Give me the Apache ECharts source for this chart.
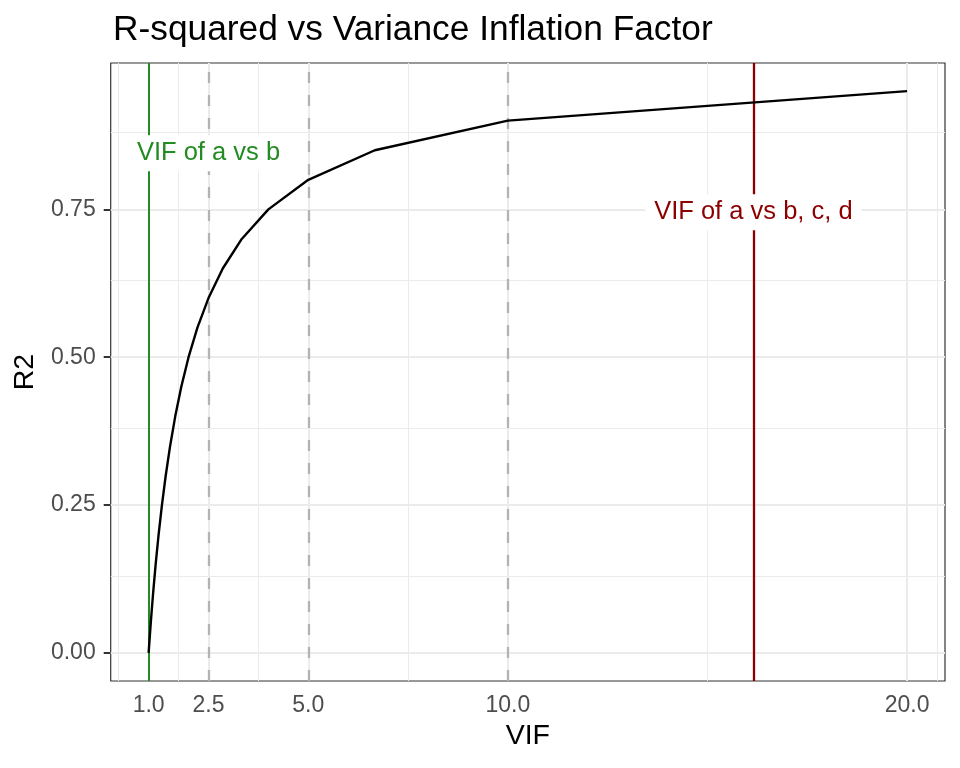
<!DOCTYPE html>
<html>
<head>
<meta charset="utf-8">
<title>R-squared vs Variance Inflation Factor</title>
<script src="https://cdn.jsdelivr.net/npm/echarts@6/dist/echarts.min.js"></script>
<style>
  html, body { margin: 0; padding: 0; background: #fff; }
  #chart { width: 960px; height: 768px; }
</style>
</head>
<body>
<div id="chart"></div>
<script>
// curve: R2 from 0 to 0.95 and the matching VIF
var r2Values = [0, 0.05, 0.1, 0.15, 0.2, 0.25, 0.3, 0.35, 0.4, 0.45, 0.5,
                0.55, 0.6, 0.65, 0.7, 0.75, 0.8, 0.85, 0.9, 0.95];
var vifValues = [1, 1.0526, 1.1111, 1.1765, 1.25, 1.3333, 1.4286, 1.5385, 1.6667, 1.8182, 2,
                 2.2222, 2.5, 2.8571, 3.3333, 4, 5, 6.6667, 10, 20];

var xBreaks = [1, 2.5, 5, 10, 20];
var xMinorBreaks = [0.25, 1.75, 3.75, 7.5, 15, 20.75];
var yBreaks = [0, 0.25, 0.5, 0.75];
var yMinorBreaks = [0.125, 0.375, 0.625, 0.875];

var thresholdLines = [2.5, 5, 10];
var vifAvsB = 1;
var vifAvsBCD = 16.15;
var labelTexts = ['VIF of a vs b', 'VIF of a vs b, c, d'];
var labelX = [2.5, 16.15];
var labelY = [0.85, 0.75];

var chart = echarts.init(document.getElementById('chart'));

var curveData = vifValues.map(function (v, i) { return [v, r2Values[i]]; });

var gridLines = [];
xMinorBreaks.forEach(function (v) {
  gridLines.push({ xAxis: v, lineStyle: { color: '#ebebeb', width: 1, type: 'solid' } });
});
yMinorBreaks.forEach(function (v) {
  gridLines.push({ yAxis: v, lineStyle: { color: '#ebebeb', width: 1, type: 'solid' } });
});
xBreaks.forEach(function (v) {
  gridLines.push({ xAxis: v, lineStyle: { color: '#ebebeb', width: 2, type: 'solid' } });
});
yBreaks.forEach(function (v) {
  gridLines.push({ yAxis: v, lineStyle: { color: '#ebebeb', width: 2, type: 'solid' } });
});

var refLines = thresholdLines.map(function (v) {
  return { xAxis: v, lineStyle: { color: '#b3b3b3', width: 2.3, type: [11, 12] } };
});
refLines.push({ xAxis: vifAvsB, lineStyle: { color: '#228B22', width: 2, type: 'solid' } });
refLines.push({ xAxis: vifAvsBCD, lineStyle: { color: '#8B0000', width: 2.3, type: 'solid' } });

var labelColors = ['#228B22', '#8B0000'];
var labelData = labelTexts.map(function (t, i) {
  return {
    value: [labelX[i], labelY[i]],
    name: t,
    label: { color: labelColors[i] }
  };
});

var option = {
  backgroundColor: '#ffffff',
  animation: false,
  title: {
    text: 'R-squared vs Variance Inflation Factor',
    left: 108,
    top: 8,
    textStyle: { fontFamily: 'Liberation Sans', fontSize: 35.3, fontWeight: 'normal', color: '#000' }
  },
  grid: {
    left: 110.7, right: 15, top: 63, bottom: 87,
    show: true, borderColor: '#333333', borderWidth: 1.2,
    containLabel: false
  },
  xAxis: {
    type: 'value',
    min: 0.05,
    max: 20.95,
    name: 'VIF',
    nameLocation: 'middle',
    nameGap: 41,
    nameTextStyle: { fontFamily: 'Liberation Sans', fontSize: 28.5, color: '#000' },
    axisLine: { show: false },
    splitLine: { show: false },
    axisTick: {
      show: true, length: 7, customValues: xBreaks,
      lineStyle: { color: '#333333', width: 2 }
    },
    axisLabel: {
      show: true, customValues: xBreaks, margin: 13,
      fontFamily: 'Liberation Sans', fontSize: 23, color: '#4d4d4d',
      formatter: function (v) { return v.toFixed(1); }
    }
  },
  yAxis: {
    type: 'value',
    min: -0.0475,
    max: 0.9975,
    name: 'R2',
    nameLocation: 'middle',
    nameGap: 70,
    nameTextStyle: { fontFamily: 'Liberation Sans', fontSize: 28.5, color: '#000' },
    axisLine: { show: false },
    splitLine: { show: false },
    axisTick: {
      show: true, length: 7, customValues: yBreaks,
      lineStyle: { color: '#333333', width: 2 }
    },
    axisLabel: {
      show: true, customValues: yBreaks, margin: 15,
      fontFamily: 'Liberation Sans', fontSize: 23, color: '#4d4d4d',
      formatter: function (v) { return v.toFixed(2); }
    }
  },
  series: [
    {
      name: 'grid',
      type: 'line',
      data: [],
      silent: true,
      z: 1,
      markLine: { z: 1, silent: true, symbol: 'none', label: { show: false }, data: gridLines, animation: false }
    },
    {
      name: 'refs',
      type: 'line',
      data: [],
      silent: true,
      z: 2,
      markLine: { z: 2, silent: true, symbol: 'none', label: { show: false }, data: refLines, animation: false }
    },
    {
      name: 'R2',
      type: 'line',
      data: curveData,
      showSymbol: false,
      symbol: 'none',
      z: 3,
      lineStyle: { color: '#000000', width: 2.4 }
    },
    {
      name: 'labels',
      type: 'scatter',
      data: labelData,
      symbolSize: 0,
      z: 10,
      itemStyle: { opacity: 1 },
      label: {
        show: true,
        position: 'inside',
        offset: [0, 3],
        opacity: 1,
        formatter: '{b}',
        fontFamily: 'Liberation Sans',
        fontSize: 25.5,
        backgroundColor: '#ffffff',
        padding: [5, 9, 5, 9]
      }
    }
  ]
};

chart.setOption(option);
</script>
</body>
</html>
